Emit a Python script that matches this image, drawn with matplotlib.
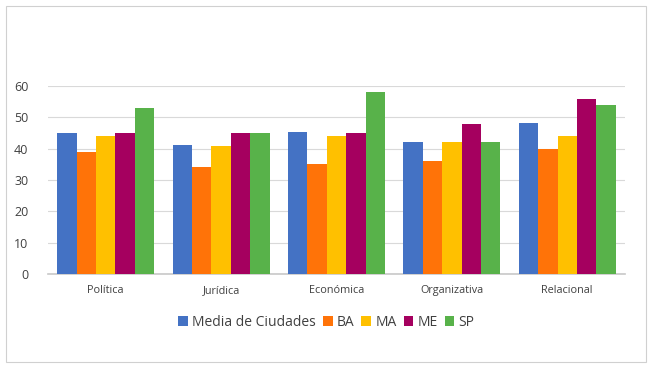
import matplotlib
matplotlib.use("Agg")
import matplotlib.pyplot as plt
import numpy as np
from matplotlib.patches import Rectangle

# Data
categories = ["Política", "Jurídica", "Económica", "Organizativa", "Relacional"]
media = [45, 41.2, 45.3, 42, 48.2]
ba = [39, 34, 35, 36, 40]
ma = [44, 41, 44, 42, 44]
me = [45, 45, 45, 48, 56]
sp = [53, 45, 58, 42, 54]

series = [("Media de Ciudades", media, "#4472C4"),
          ("BA", ba, "#FF7308"),
          ("MA", ma, "#FFC000"),
          ("ME", me, "#A5005F"),
          ("SP", sp, "#58B24A")]

plt.rcParams['font.family'] = ['Open Sans', 'DejaVu Sans']

fig = plt.figure(figsize=(6.53, 3.70), dpi=100)
ax = fig.add_axes([0.0735, 0.2595, 0.8835, 0.5081])

# outer chart border
fig.patches.append(Rectangle((6 / 653, 1 - 362 / 370), 640 / 653, 356 / 370,
                             transform=fig.transFigure, fill=False,
                             edgecolor="#D0D0D0", linewidth=0.8))

x = np.arange(len(categories))
w = 0.168
for i, (name, vals, col) in enumerate(series):
    ax.bar(x + (i - 2) * w, vals, w, color=col, label=name, zorder=3)

ax.set_xlim(-0.5, len(categories) - 0.5)
ax.set_ylim(0, 60)
ax.set_yticks(range(0, 61, 10))
ax.set_xticks(x)
ax.set_xticklabels(categories, fontsize=7.8, color="#404040")
ax.tick_params(axis="y", labelsize=9, colors="#404040", length=0, pad=14)
ax.tick_params(axis="x", length=0, pad=8)
ax.grid(axis="y", color="#D9D9D9", linewidth=0.8, zorder=0)
for s in ["top", "right", "left"]:
    ax.spines[s].set_visible(False)
ax.spines["bottom"].set_color("#C8C8C8")
ax.spines["bottom"].set_linewidth(1.2)

fig.legend(loc="center", bbox_to_anchor=(0.5, 1 - 322 / 370), ncol=5,
           frameon=False, fontsize=10, handlelength=0.7, handleheight=0.7,
           handletextpad=0.3, columnspacing=0.5, labelcolor="#404040")

fig.savefig("out.png", dpi=100)
